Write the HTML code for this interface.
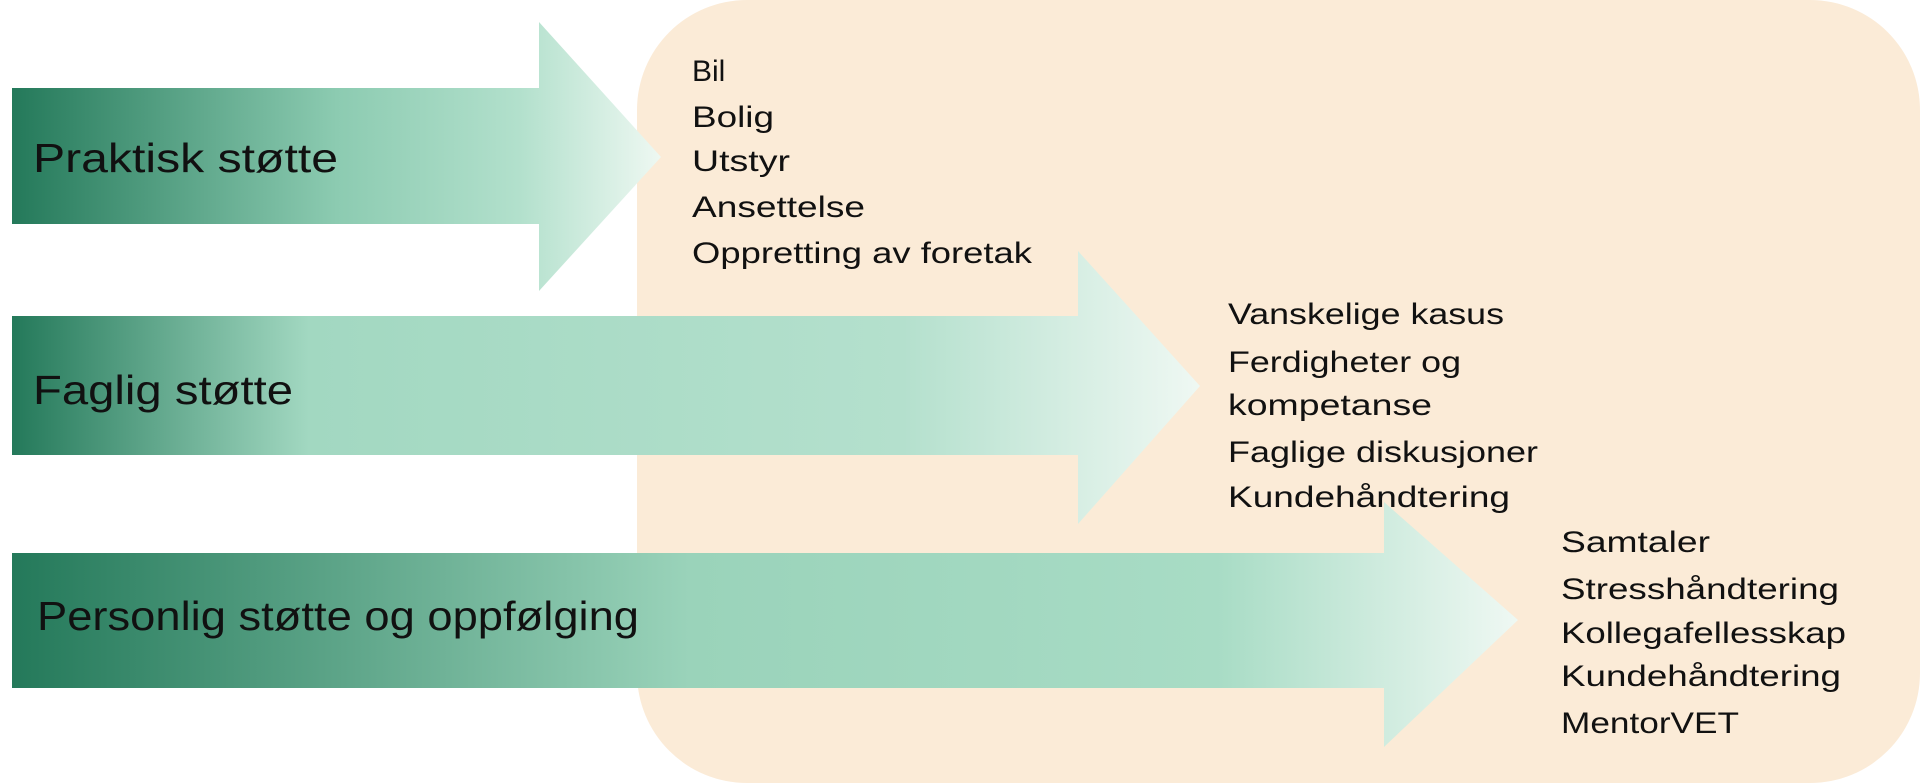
<!DOCTYPE html>
<html><head><meta charset="utf-8"><style>
html,body{margin:0;padding:0;background:#fff;}
svg{display:block;}
text{font-family:"Liberation Sans",sans-serif;fill:#111;}
</style></head><body>
<svg width="1920" height="783" viewBox="0 0 1920 783" xmlns="http://www.w3.org/2000/svg">
<defs>
<linearGradient id="g1" x1="12" y1="0" x2="661" y2="0" gradientUnits="userSpaceOnUse">
<stop offset="0" stop-color="#24795a"/><stop offset="0.5" stop-color="#8ccbb1"/><stop offset="0.78" stop-color="#b2e0cc"/><stop offset="1" stop-color="#eef8f2"/></linearGradient>
<linearGradient id="g2" x1="12" y1="0" x2="1200" y2="0" gradientUnits="userSpaceOnUse">
<stop offset="0" stop-color="#24795a"/><stop offset="0.25" stop-color="#a2d8c1"/><stop offset="0.75" stop-color="#b4e0cd"/><stop offset="1" stop-color="#eff8f3"/></linearGradient>
<linearGradient id="g3" x1="12" y1="0" x2="1518" y2="0" gradientUnits="userSpaceOnUse">
<stop offset="0" stop-color="#24795a"/><stop offset="0.45" stop-color="#9ad3ba"/><stop offset="0.8" stop-color="#a8dcc5"/><stop offset="1" stop-color="#eff8f3"/></linearGradient>
</defs>
<rect x="637" y="0" width="1283" height="783" rx="110" ry="110" fill="#fbebd7"/>
<polygon points="12,88 539,88 539,22 661,157 539,291 539,224 12,224" fill="url(#g1)"/>
<polygon points="12,316 1078,316 1078,251 1200,386 1078,524 1078,455 12,455" fill="url(#g2)"/>
<polygon points="12,553 1384,553 1384,502 1518,620 1384,747 1384,688 12,688" fill="url(#g3)"/>
<g font-size="41">
<text x="33" y="172" textLength="305" lengthAdjust="spacingAndGlyphs">Praktisk støtte</text>
<text x="33" y="404" textLength="260" lengthAdjust="spacingAndGlyphs">Faglig støtte</text>
<text x="37" y="630" textLength="602" lengthAdjust="spacingAndGlyphs">Personlig støtte og oppfølging</text>
</g>
<g font-size="30">
<text x="692" y="81">Bil</text>
<text x="692" y="127" textLength="82" lengthAdjust="spacingAndGlyphs">Bolig</text>
<text x="692" y="171" textLength="98" lengthAdjust="spacingAndGlyphs">Utstyr</text>
<text x="692" y="217" textLength="173" lengthAdjust="spacingAndGlyphs">Ansettelse</text>
<text x="692" y="263" textLength="340" lengthAdjust="spacingAndGlyphs">Oppretting av foretak</text>
<text x="1228" y="324" textLength="276" lengthAdjust="spacingAndGlyphs">Vanskelige kasus</text>
<text x="1228" y="372" textLength="233" lengthAdjust="spacingAndGlyphs">Ferdigheter og</text>
<text x="1228" y="415" textLength="204" lengthAdjust="spacingAndGlyphs">kompetanse</text>
<text x="1228" y="462" textLength="310" lengthAdjust="spacingAndGlyphs">Faglige diskusjoner</text>
<text x="1228" y="507" textLength="282" lengthAdjust="spacingAndGlyphs">Kundehåndtering</text>
<text x="1561" y="552" textLength="149" lengthAdjust="spacingAndGlyphs">Samtaler</text>
<text x="1561" y="599" textLength="278" lengthAdjust="spacingAndGlyphs">Stresshåndtering</text>
<text x="1561" y="643" textLength="285" lengthAdjust="spacingAndGlyphs">Kollegafellesskap</text>
<text x="1561" y="686" textLength="280" lengthAdjust="spacingAndGlyphs">Kundehåndtering</text>
<text x="1561" y="733" textLength="178" lengthAdjust="spacingAndGlyphs">MentorVET</text>
</g>
</svg>
</body></html>
